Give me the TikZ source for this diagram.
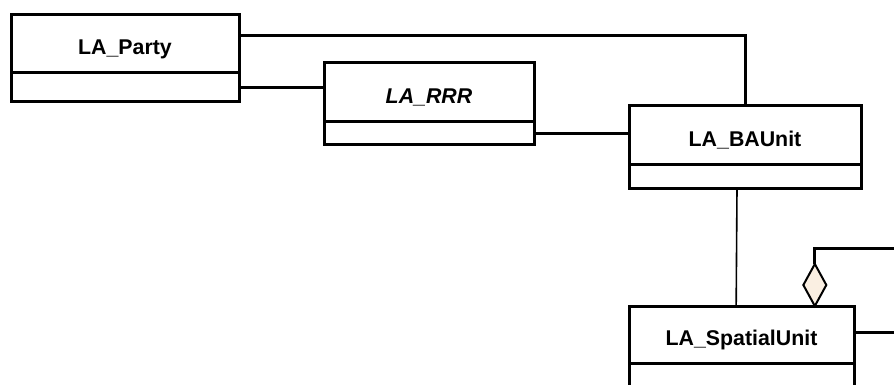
\documentclass[tikz,border=0pt]{standalone}
\usepackage{fontspec}
\setmainfont{Liberation Sans}
\usetikzlibrary{shapes.geometric, positioning}
\definecolor{aggfill}{HTML}{FAEFE2}

\begin{document}
\begin{tikzpicture}[
    x=0.75pt, y=-0.75pt,
    % Define styles
    classname/.style={
        draw=black,
        fill=white,
        line width=2.25pt,
        outer sep=0pt,
        inner sep=0pt,
        text height=16pt,
        text depth=0pt,
        font=\fontsize{16}{19}\selectfont\bfseries
    },
    classattr/.style={
        draw=black,
        fill=white,
        line width=2.25pt,
        outer sep=0pt,
        inner sep=0pt
    },
    assoc/.style={
        line width=2.25pt,
        black
    },
    link/.style={
        line width=1.2pt,
        black
    },
    aggregation/.style={
        diamond,
        draw=black,
        fill=aggfill,
        line width=1.5pt,
        inner sep=0pt,
        outer sep=0pt,
        minimum width=17.25pt,
        minimum height=31.5pt
    }
]

\useasboundingbox (0,0) rectangle (894,385);
\clip (0,0) rectangle (894,385);

% ============================================================
% Classes
% ============================================================
\node[classname, minimum width=171pt, minimum height=43.5pt] (party) at (125, 44) {LA\_Party};
\node[classattr, minimum width=171pt, minimum height=21.75pt, below=0pt of party] (party_attr) {};

\node[classname, minimum width=157.5pt, minimum height=44.25pt] (rrr) at (429, 92.5) {\itshape LA\_RRR};
\node[classattr, minimum width=157.5pt, minimum height=17.25pt, below=0pt of rrr] (rrr_attr) {};

\node[classname, minimum width=174pt, minimum height=44.25pt] (baunit) at (745, 135.5) {LA\_BAUnit};
\node[classattr, minimum width=174pt, minimum height=18pt, below=0pt of baunit] (baunit_attr) {};

\node[classname, minimum width=168.75pt, minimum height=42.75pt] (spatial) at (741.5, 334.5) {LA\_SpatialUnit};
\node[classattr, minimum width=168.75pt, minimum height=21.75pt, below=0pt of spatial] (spatial_attr) {};

% ============================================================
% Associations
% ============================================================
\draw[assoc] ([yshift=6pt]party.east) -| (baunit.north);
\draw[assoc] (party_attr.east) -- (party_attr.east -| rrr.west);
\draw[assoc] (rrr_attr.east) -- (rrr_attr.east -| baunit.west);
\draw[link] ([xshift=-6pt]baunit_attr.south) -- ([xshift=-4pt]spatial.north);

% Aggregation and lines leaving the picture
\coordinate (edge_top) at (894, 248);
\coordinate (edge_mid) at (894, 332);
\node[aggregation, anchor=south] (agg) at ([xshift=55pt]spatial.north) {};
\draw[assoc] (agg.north) |- (edge_top);
\draw[assoc] (spatial.east |- edge_mid) -- (edge_mid);

\end{tikzpicture}
\end{document}
